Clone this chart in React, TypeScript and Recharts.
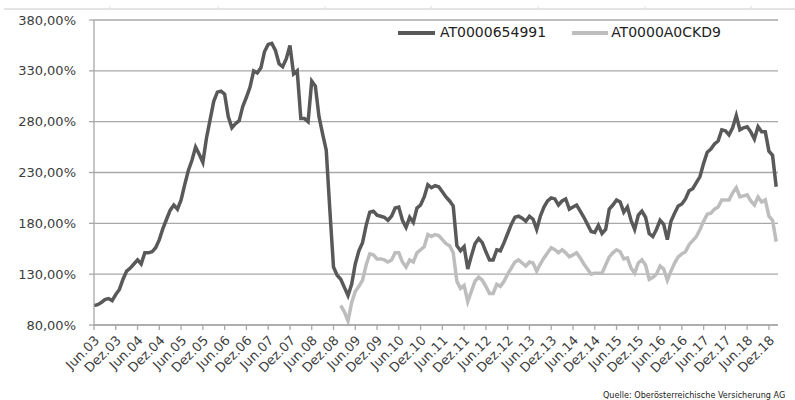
import React from "react";
import { LineChart, Line, XAxis, YAxis, CartesianGrid } from "recharts";

// Monthly values, first point = Jun 2003 (month index 0)
const darkValues: number[] = [
  99, 100, 102, 105, 106, 104, 110, 115, 125, 133,
  136, 140, 144, 140, 151, 151, 152, 156, 164, 175,
  184, 193, 198, 194, 203, 218, 232, 242, 255, 248,
  240, 264, 282, 300, 309, 310, 307, 285, 274, 278,
  281, 295, 304, 314, 330, 328, 333, 349, 356, 357,
  350, 337, 334, 342, 355, 327, 330, 283, 283, 280,
  320, 315, 285, 268, 252, 193, 137, 129, 125, 117,
  109, 120, 140, 153, 161, 178, 191, 192, 188, 187,
  186, 183, 187, 195, 196, 183, 176, 186, 181, 195,
  198, 206, 218, 215, 217, 216, 211, 206, 202, 197,
  158, 153, 157, 135, 148, 160, 165, 161, 152, 144,
  144, 154, 153, 161, 170, 179, 186, 187, 185, 182,
  187, 184, 174, 187, 196, 202, 205, 204, 198, 202,
  204, 194, 196, 198, 192, 186, 179, 172, 171, 178,
  170, 174, 194, 198, 203, 201, 191, 196, 183, 174,
  188, 192, 186, 170, 167, 174, 183, 179, 164, 182,
  190, 197, 199, 204, 212, 214, 220, 226, 239, 250,
  253, 258, 261, 272, 271, 267, 274, 286, 272, 274,
  275, 270, 263, 275, 270, 270, 251, 247, 216,
];

// Second fund starts at month index 68 (Feb 2009)
const lightStart = 68;
const lightValues: number[] = [
  99, 93,
  84, 102, 113, 118, 124, 139, 150, 149, 145, 145,
  144, 142, 144, 151, 151, 142, 137, 144, 142, 151,
  154, 157, 169, 167, 169, 168, 164, 160, 158, 151,
  123, 116, 119, 103, 113, 123, 127, 124, 118, 111,
  111, 120, 118, 123, 130, 136, 142, 144, 141, 138,
  142, 141, 133, 140, 146, 151, 156, 154, 151, 154,
  151, 147, 149, 151, 146, 140, 135, 130, 131, 131,
  131, 139, 147, 151, 154, 152, 145, 146, 136, 131,
  141, 144, 139, 125, 127, 130, 138, 135, 124, 133,
  141, 147, 150, 152, 159, 163, 167, 174, 182, 189,
  190, 194, 196, 203, 203, 203, 210, 215, 206, 207,
  208, 202, 198, 206, 201, 203, 187, 183, 162,
];

const seriesNames = ["AT0000654991", "AT0000A0CKD9"];

const tickLabels: string[] = [
  "Jun.03", "Dez.03", "Jun.04", "Dez.04", "Jun.05", "Dez.05", "Jun.06", "Dez.06",
  "Jun.07", "Dez.07", "Jun.08", "Dez.08", "Jun.09", "Dez.09", "Jun.10", "Dez.10",
  "Jun.11", "Dez.11", "Jun.12", "Dez.12", "Jun.13", "Dez.13", "Jun.14", "Dez.14",
  "Jun.15", "Dez.15", "Jun.16", "Dez.16", "Jun.17", "Dez.17", "Jun.18", "Dez.18",
];

const yTicks: number[] = [80, 130, 180, 230, 280, 330, 380];

const sourceText = "Quelle: Oberösterreichische Versicherung AG";

const data = darkValues.map((v, i) => ({
  m: i,
  dark: v,
  light: i >= lightStart ? lightValues[i - lightStart] : null,
}));

const xTicks = tickLabels.map((_, i) => i * 6);

const FONT = "'DejaVu Sans', Verdana, sans-serif";
const TEXT = "#3d3d3d";
const DARK = "#595959";
const LIGHT = "#bdbdbd";
const GRID = "#a8a8a8";

const fmtPct = (v: number) => v.toFixed(2).replace(".", ",") + "%";

const XTick = (props: any) => {
  const { x, y, payload } = props;
  const label = tickLabels[Math.round(payload.value / 6)] ?? "";
  const ax = x + 3;
  const ay = y;
  return (
    <text
      x={ax}
      y={ay}
      transform={`rotate(-45 ${ax} ${ay})`}
      textAnchor="end"
      dominantBaseline="central"
      fontSize={13}
      fill={TEXT}
      fontFamily={FONT}
    >
      {label}
    </text>
  );
};

export default function App() {
  return (
    <div style={{ position: "absolute", left: 0, top: 0, width: 795, height: 400, background: "#fff", overflow: "hidden" }}>
      <svg width={795} height={12} style={{ position: "absolute", left: 0, top: 0 }}>
        <line x1={4} y1={9} x2={795} y2={9} stroke="#c8c8c8" strokeWidth={1} />
        {[110, 218, 325, 431, 538, 645, 751].map((x) => (
          <line key={x} x1={x} y1={6} x2={x} y2={9} stroke="#e0e0e0" strokeWidth={1} />
        ))}
      </svg>
      <LineChart
        width={795}
        height={400}
        data={data}
        margin={{ top: 20, right: 17, left: 0, bottom: 0 }}
      >
        <CartesianGrid vertical={false} stroke={GRID} strokeWidth={1.3} />
        <XAxis
          dataKey="m"
          type="number"
          domain={[0, 188.5]}
          ticks={xTicks}
          interval={0}
          height={75}
          tickSize={5}
          tickMargin={8}
          stroke={GRID}
          axisLine={{ stroke: GRID, strokeWidth: 1.3 }}
          tickLine={{ stroke: GRID, strokeWidth: 1.3 }}
          tick={<XTick />}
        />
        <YAxis
          type="number"
          domain={[80, 380]}
          ticks={yTicks}
          width={94}
          tickSize={5}
          tickMargin={13}
          tickFormatter={fmtPct}
          axisLine={{ stroke: GRID, strokeWidth: 1.3 }}
          tickLine={{ stroke: GRID, strokeWidth: 1.3 }}
          tick={{ fontSize: 13, fill: TEXT, fontFamily: FONT }}
        />
        <Line
          type="linear"
          dataKey="dark"
          name={seriesNames[0]}
          stroke={DARK}
          strokeWidth={3.5}
          dot={false}
          isAnimationActive={false}
        />
        <Line
          type="linear"
          dataKey="light"
          name={seriesNames[1]}
          stroke={LIGHT}
          strokeWidth={3.5}
          dot={false}
          connectNulls={false}
          isAnimationActive={false}
        />
      </LineChart>
      <div
        style={{
          position: "absolute",
          top: 24,
          left: 398,
          display: "flex",
          alignItems: "center",
          fontFamily: FONT,
          fontSize: 14,
          lineHeight: "17px",
          color: "#222",
          whiteSpace: "nowrap",
        }}
      >
        <span style={{ display: "inline-block", width: 37, height: 4, background: DARK, marginRight: 5 }} />
        <span style={{ marginRight: 26 }}>{seriesNames[0]}</span>
        <span style={{ display: "inline-block", width: 36, height: 4, background: LIGHT, marginRight: 3 }} />
        <span>{seriesNames[1]}</span>
      </div>
      <div
        style={{
          position: "absolute",
          left: 603,
          top: 390,
          fontFamily: FONT,
          fontSize: 8.1,
          color: "#222",
          whiteSpace: "nowrap",
        }}
      >
        {sourceText}
      </div>
    </div>
  );
}
